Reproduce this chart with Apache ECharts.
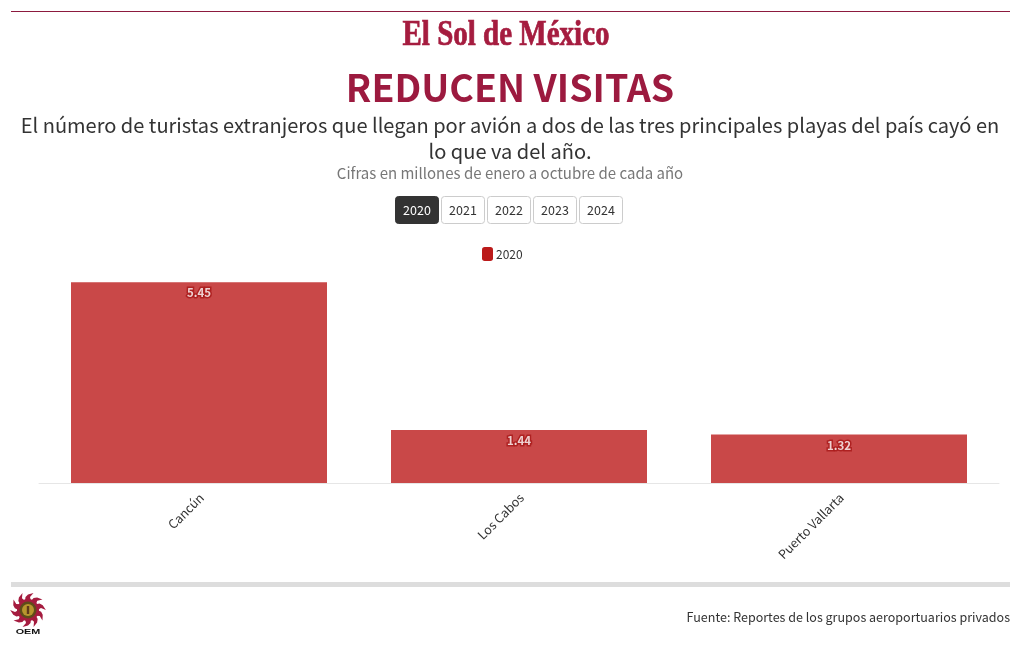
<!DOCTYPE html>
<html><head><meta charset="utf-8">
<style>html,body{margin:0;padding:0;background:#fff}#c{width:1020px;height:650px}</style>
<script src="https://cdn.jsdelivr.net/npm/echarts@6/dist/echarts.min.js"></script>
</head><body><div id="c"></div>
<script>
const categories = ['Cancún', 'Los Cabos', 'Puerto Vallarta'];
const values2020 = [5.45, 1.44, 1.32];
const seriesName = '2020';
const years = ['2020', '2021', '2022', '2023', '2024'];
const titleText = 'REDUCEN VISITAS';
const subtitleLines = ['El número de turistas extranjeros que llegan por avión a dos de las tres principales playas del país cayó en', 'lo que va del año.'];
const captionText = 'Cifras en millones de enero a octubre de cada año';
const sourceText = 'Fuente: Reportes de los grupos aeroportuarios privados';
const brandText = 'El Sol de México';

const FONT = '"Noto Sans CJK SC","Noto Sans",sans-serif';
const chart = echarts.init(document.getElementById('c'));

const txt = (x, y, text, size, fill, weight, align) => ({
  type: 'text', x, y,
  style: { text, fontSize: size, fill, fontWeight: weight || 'normal', fontFamily: FONT, align: align || 'center', verticalAlign: 'middle' }
});
const buttons = years.map((y, i) => {
  const x = 395 + i * 46, on = i === 0;
  return { type: 'group', children: [
    { type: 'rect', shape: { x: x + .5, y: 196.5, width: 43, height: 27, r: 3 }, style: { fill: on ? '#333333' : '#ffffff', stroke: on ? '#333333' : '#cccccc', lineWidth: 1 } },
    txt(x + 22, 210.5, y, 12.5, on ? '#ffffff' : '#333333')
  ]};
});
// emblem
const rays = [];
for (let i = 0; i < 10; i++) {
  rays.push({ type: 'polygon', x: 28, y: 610, rotation: i * Math.PI / 5,
    shape: { points: [[-3, -9], [3, -9], [2, -13], [5.5, -17], [0, -15.5], [-2.5, -13]] }, style: { fill: '#a51c3f' } });
}
const emblem = rays.concat([
  { type: 'circle', shape: { cx: 28, cy: 610, r: 11 }, style: { fill: '#a51c3f' } },
  { type: 'circle', shape: { cx: 28, cy: 610, r: 8.5 }, style: { fill: '#5f4c1a' } },
  { type: 'circle', shape: { cx: 28, cy: 610, r: 6 }, style: { fill: '#b8962e' } },
  { type: 'rect', shape: { x: 26.8, y: 606, width: 2.4, height: 8 }, style: { fill: '#5f3a1a' } },
  { type: 'text', x: 28, y: 632, scaleX: 1.35, style: { text: 'OEM', fontSize: 8, fontWeight: 'bold', fill: '#111', fontFamily: '"Liberation Sans",sans-serif', align: 'center', verticalAlign: 'middle' } }
]);

chart.setOption({
  animation: false,
  backgroundColor: '#ffffff',
  textStyle: { fontFamily: FONT },
  grid: { left: 39, right: 21, top: 262, height: 221, containLabel: false },
  legend: {
    data: [seriesName], top: 247, left: 482, padding: 0, itemWidth: 11, itemHeight: 14, itemGap: 1,
    icon: 'roundRect', textStyle: { fontSize: 12, color: '#333333', fontFamily: FONT, padding: [0, 0, 0, -2] },
    itemStyle: { color: '#bb1a1a', opacity: 1 }
  },
  xAxis: {
    type: 'category', data: categories,
    axisLine: { lineStyle: { color: '#e6e6e6' } }, axisTick: { show: false },
    axisLabel: { rotate: 45, fontSize: 12.5, color: '#333333', margin: 10, verticalAlign: 'top', lineHeight: 7, fontFamily: FONT }
  },
  yAxis: { type: 'value', min: 0, max: 6, show: false },
  series: [{
    name: seriesName, type: 'bar', data: values2020, barWidth: '80%',
    itemStyle: { color: '#bb1a1a', opacity: 0.8 },
    label: { show: true, position: 'insideTop', distance: 5, formatter: p => p.value.toFixed(2), color: '#ffffff', fontSize: 11.5, fontWeight: 'bold', fontFamily: FONT, textBorderColor: '#a81818', textBorderWidth: 3 }
  }],
  graphic: { elements: [
    { type: 'rect', shape: { x: 11, y: 11, width: 999, height: 1 }, style: { fill: '#8c1a3e' } },
    { type: 'text', x: 506, y: 36, scaleY: 1.2, style: { text: brandText, fontSize: 29, fontWeight: 'bold', fill: '#a51c3f', stroke: '#a51c3f', lineWidth: 0.6, fontFamily: '"Liberation Serif",serif', align: 'center', verticalAlign: 'middle' } },
    txt(510, 88, titleText, 37.5, '#9c1a3f', 'bold'),
    txt(510, 125, subtitleLines[0], 20.05, '#333333'),
    txt(510, 151, subtitleLines[1], 20.05, '#333333'),
    txt(510, 173, captionText, 15, '#777777'),
    ...buttons,
    { type: 'rect', shape: { x: 11, y: 582, width: 999, height: 5 }, style: { fill: '#dddddd' } },
    ...emblem,
    txt(1010, 617, sourceText, 12.52, '#333333', 'normal', 'right')
  ]}
});
</script></body></html>
